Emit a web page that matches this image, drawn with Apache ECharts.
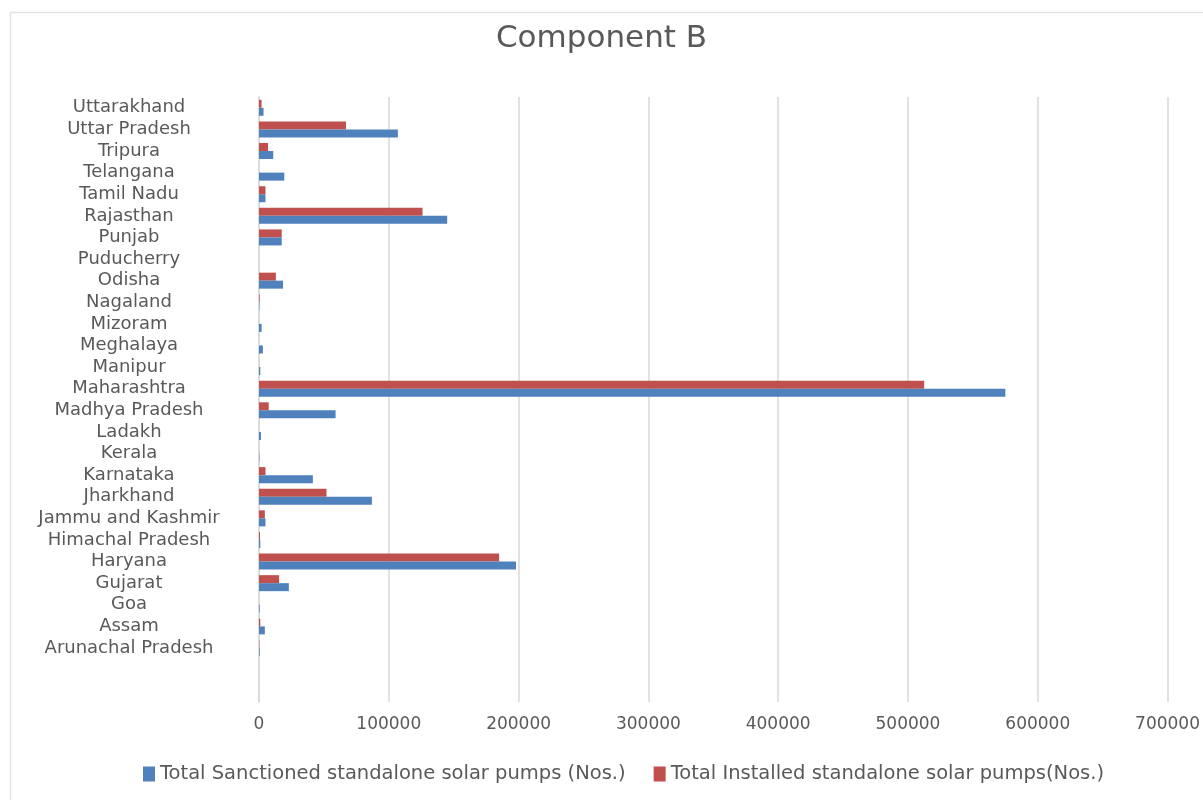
<!DOCTYPE html>
<html>
<head>
<meta charset="utf-8">
<title>Component B</title>
<script src="https://cdn.jsdelivr.net/npm/echarts@6/dist/echarts.min.js"></script>
<style>
  html, body { margin: 0; padding: 0; background: #ffffff; }
  #chart { width: 1203px; height: 800px; }
</style>
</head>
<body>
<div id="chart"></div>
<script>
// States / UTs, listed bottom to top (two empty rows at the foot of the axis)
const states = [
  ' ', '  ',
  'Arunachal Pradesh', 'Assam', 'Goa', 'Gujarat', 'Haryana', 'Himachal Pradesh',
  'Jammu and Kashmir', 'Jharkhand', 'Karnataka', 'Kerala', 'Ladakh',
  'Madhya Pradesh', 'Maharashtra', 'Manipur', 'Meghalaya', 'Mizoram',
  'Nagaland', 'Odisha', 'Puducherry', 'Punjab', 'Rajasthan', 'Tamil Nadu',
  'Telangana', 'Tripura', 'Uttar Pradesh', 'Uttarakhand'
];

const sanctioned = [
  null, null,
  500, 4500, 500, 23000, 198000, 1000,
  5000, 87000, 41500, 300, 1500,
  59000, 575000, 1000, 3000, 2000,
  300, 18500, 0, 17500, 145000, 5000,
  19500, 11000, 107000, 3500
];

const installed = [
  null, null,
  300, 1000, 0, 15500, 185000, 800,
  4500, 52000, 5000, 0, 0,
  7500, 512500, 0, 0, 0,
  500, 13000, 0, 17500, 126000, 5000,
  0, 7000, 67000, 2000
];

const sanctionedName = 'Total Sanctioned standalone solar pumps (Nos.)';
const installedName = 'Total Installed standalone solar pumps(Nos.)';
const xTicks = { min: 0, max: 700000, interval: 100000 };

const textColor = '#595959';
const gridColor = '#d9d9d9';
const fontFamily = 'DejaVu Sans';

const chart = echarts.init(document.getElementById('chart'), null, { renderer: 'canvas' });

chart.setOption({
  backgroundColor: '#ffffff',
  animation: false,
  graphic: [{
    type: 'rect',
    shape: { x: 10.5, y: 12.5, width: 1400, height: 1000 },
    style: { fill: 'none', stroke: '#e3e3e3', lineWidth: 1.5 },
    silent: true
  }],
  title: {
    text: 'Component B',
    left: 'center',
    top: 18,
    textStyle: { fontFamily: fontFamily, fontSize: 31, fontWeight: 'normal', color: textColor }
  },
  legend: {
    data: [sanctionedName, installedName],
    left: 138,
    top: 759,
    itemWidth: 12,
    itemHeight: 15,
    itemGap: 28,
    icon: 'rect',
    textStyle: { fontFamily: fontFamily, fontSize: 19.5, color: textColor }
  },
  grid: { left: 259, right: 34, top: 97, bottom: 98, containLabel: false },
  xAxis: {
    type: 'value',
    min: xTicks.min,
    max: xTicks.max,
    interval: xTicks.interval,
    axisLine: { show: false },
    axisTick: { show: false },
    splitLine: { show: true, lineStyle: { color: gridColor, width: 1.5 } },
    axisLabel: {
      fontFamily: fontFamily, fontSize: 17, color: textColor, margin: 14,
      formatter: v => String(v)
    }
  },
  yAxis: {
    type: 'category',
    data: states,
    axisLine: { show: true, lineStyle: { color: gridColor, width: 1.5 } },
    axisTick: { show: false },
    axisLabel: {
      fontFamily: fontFamily, fontSize: 18, color: textColor,
      align: 'center', margin: 130, interval: 0,
      padding: [4, 0, 0, 0]
    }
  },
  // installed first so it sits above sanctioned within each row
  series: [
    {
      name: installedName,
      type: 'bar',
      data: installed,
      barWidth: 8,
      barGap: '0%',
      itemStyle: { color: '#C0504D' }
    },
    {
      name: sanctionedName,
      type: 'bar',
      data: sanctioned,
      barWidth: 8,
      barGap: '0%',
      itemStyle: { color: '#4F81BD' }
    }
  ]
});
</script>
</body>
</html>
